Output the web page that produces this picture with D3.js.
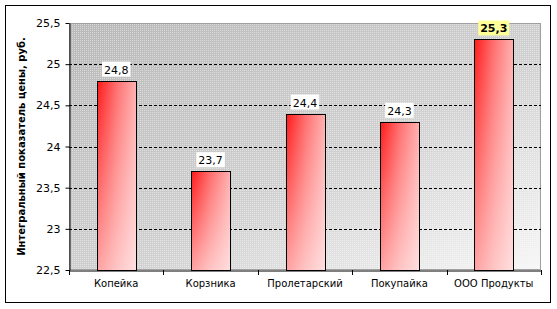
<!DOCTYPE html>
<html><head><meta charset="utf-8">
<script src="https://cdn.jsdelivr.net/npm/d3@7"></script>
<style>body{margin:0;background:#fff}svg{display:block}text{font-family:"DejaVu Sans",Verdana,sans-serif}</style>
</head><body><svg id="c" width="557" height="309"></svg>
<script>
const categories = ["Копейка","Корзника","Пролетарский","Покупайка","ООО Продукты"];
const values = [24.8, 23.7, 24.4, 24.3, 25.3];
const labels = ["24,8","23,7","24,4","24,3","25,3"];
const yTicks = [22.5,23,23.5,24,24.5,25,25.5];
const yTickLabels = ["22,5","23","23,5","24","24,5","25","25,5"];
const yTitle = "Интегральный показатель цены, руб.";

const svg = d3.select("#c");
const L=69,R=541,T=23,B=270;
svg.append("rect").attr("x",5.5).attr("y",5.5).attr("width",545).attr("height",297).attr("fill","#fff").attr("stroke","#000").attr("stroke-width",1);

const defs = svg.append("defs");
const bg = defs.append("linearGradient").attr("id","bg").attr("x1","0").attr("y1","0").attr("x2","1").attr("y2","1");
bg.append("stop").attr("offset","0").attr("stop-color","#b8b8b8");
bg.append("stop").attr("offset","0.55").attr("stop-color","#d0d0d0");
bg.append("stop").attr("offset","1").attr("stop-color","#f6f6f6");
const pat = defs.append("pattern").attr("id","dots").attr("width",2).attr("height",2).attr("patternUnits","userSpaceOnUse");
pat.append("rect").attr("width",1).attr("height",1).attr("fill","#fff").attr("opacity",0.45);
const barG = defs.append("linearGradient").attr("id","barH").attr("x1","0").attr("y1","0").attr("x2","1").attr("y2","0");
barG.append("stop").attr("offset","0").attr("stop-color","#ff1a1a");
barG.append("stop").attr("offset","0.5").attr("stop-color","#ff7070");
barG.append("stop").attr("offset","1").attr("stop-color","#ffb0b0");
const barV = defs.append("linearGradient").attr("id","barV").attr("x1","0").attr("y1","0").attr("x2","0").attr("y2","1");
barV.append("stop").attr("offset","0").attr("stop-color","#fff").attr("stop-opacity",0);
barV.append("stop").attr("offset","1").attr("stop-color","#fff").attr("stop-opacity",0.6);

svg.append("rect").attr("x",L).attr("y",T).attr("width",R-L).attr("height",B-T).attr("fill","url(#bg)");
svg.append("rect").attr("x",L).attr("y",T).attr("width",R-L).attr("height",B-T).attr("fill","url(#dots)");
svg.append("rect").attr("x",L+0.5).attr("y",T+0.5).attr("width",R-L-1).attr("height",B-T-1).attr("fill","none").attr("stroke","#a0a0a0");

const x = d3.scaleBand().domain(categories).range([L,R]).paddingInner(0.59).paddingOuter(0.295);
const xb = d3.scaleBand().domain(categories).range([L,R]);
const y = d3.scaleLinear().domain([22.5,25.5]).range([B,T]);

// grid
svg.append("g").selectAll("line").data(yTicks.filter(v=>v>22.5&&v<25.5)).join("line")
 .attr("x1",L).attr("x2",R).attr("y1",d=>Math.round(y(d))+0.5).attr("y2",d=>Math.round(y(d))+0.5)
 .attr("stroke","#000").attr("stroke-dasharray","3,2");

// bars
const bars = svg.append("g");
bars.selectAll("rect.b").data(categories).join("rect").attr("class","b")
 .attr("x",d=>Math.round(x(d))+0.5).attr("y",(d,i)=>Math.round(y(values[i]))+0.5)
 .attr("width",Math.round(x.bandwidth())).attr("height",(d,i)=>Math.round(B-y(values[i])))
 .attr("fill","url(#barH)");
bars.selectAll("rect.v").data(categories).join("rect").attr("class","v")
 .attr("x",d=>Math.round(x(d))+0.5).attr("y",(d,i)=>Math.round(y(values[i]))+0.5)
 .attr("width",Math.round(x.bandwidth())).attr("height",(d,i)=>Math.round(B-y(values[i])))
 .attr("fill","url(#barV)").attr("stroke","#000");

// axes
const yAxis = d3.axisLeft(y).tickValues(yTicks).tickFormat((d,i)=>yTickLabels[i]).tickSize(4).tickSizeOuter(0);
const gy = svg.append("g").attr("transform",`translate(${L+0.5},0)`).call(yAxis);
gy.selectAll("text").attr("font-size",11).attr("fill","#000").attr("dx","-2").attr("font-family","DejaVu Sans, Verdana, sans-serif");
gy.select(".domain").attr("stroke","#000");
const xAxis = d3.axisBottom(xb).tickSize(0).tickSizeOuter(0);
const gx = svg.append("g").attr("transform",`translate(0,${B+0.5})`).call(xAxis);
gx.select(".domain").attr("stroke","#000");
gx.selectAll("text").attr("font-size",10).attr("fill","#000").attr("dy","1.3em").attr("font-family","DejaVu Sans, Verdana, sans-serif");
svg.append("g").selectAll("line").data(d3.range(categories.length+1)).join("line")
 .attr("x1",i=>Math.round(L+i*xb.step())+0.5).attr("x2",i=>Math.round(L+i*xb.step())+0.5)
 .attr("y1",B).attr("y2",B+5).attr("stroke","#000");

// value labels
const lg = svg.append("g");
categories.forEach((c,i)=>{
  const cx = x(c)+x.bandwidth()/2, ty = y(values[i])-4;
  const last = i===categories.length-1;
  const t = lg.append("text").attr("x",cx).attr("y",ty-3).attr("text-anchor","middle")
   .attr("font-size",11).attr("font-weight",last?"bold":"normal").attr("fill","#000").text(labels[i]);
  const bb = t.node().getBBox();
  lg.insert("rect","text").attr("x",bb.x-2).attr("y",ty-15).attr("width",bb.width+4).attr("height",15)
   .attr("fill",last?"#ffff99":"#fff");
});

// y title
svg.append("text").attr("transform",`translate(25,${(T+B)/2}) rotate(-90)`).attr("text-anchor","middle")
 .attr("font-size",10).attr("font-weight","bold").attr("fill","#000").text(yTitle);
</script></body></html>
